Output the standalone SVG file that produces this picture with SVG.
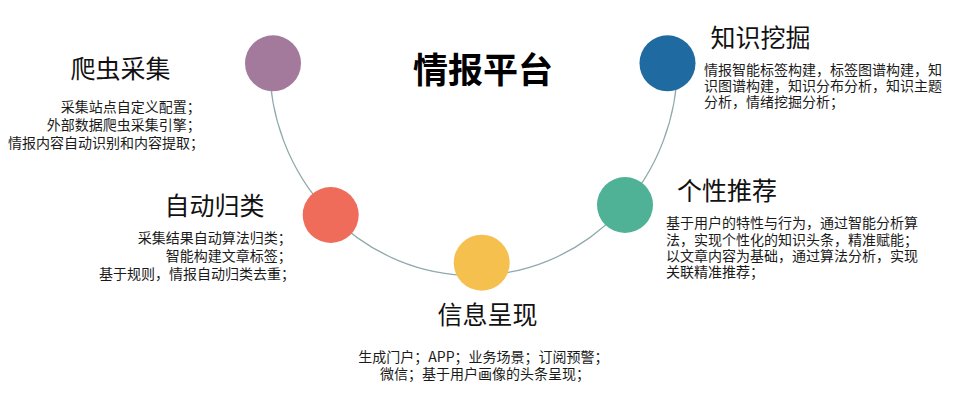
<svg xmlns="http://www.w3.org/2000/svg" width="961" height="405" viewBox="0 0 961 405">
  <style>
    text { font-family: "Noto Sans CJK SC", "Liberation Sans", sans-serif; fill: #1a1a1a; }
    .title { font-size: 35px; font-weight: bold; fill: #000; }
    .head { font-size: 25px; fill: #111; }
    .body { font-size: 14px; }
    .arc { fill: none; stroke: #8fa9ab; stroke-width: 1.2; }
  </style>
  <rect width="961" height="405" fill="#ffffff"/>
  <g id="connectors">
    <path class="arc" d="M 269.5 63 A 204 212.5 0 0 0 677.5 63"/>
  </g>
  <g id="title">
    <text class="title" x="483" y="82.5" text-anchor="middle">情报平台</text>
  </g>
  <g id="node-crawler">
    <circle cx="273" cy="63.3" r="28" fill="#a37a9c"/>
    <text class="head" x="70.5" y="78">爬虫采集</text>
    <text class="body" text-anchor="end">
      <tspan x="204" y="112">采集站点自定义配置；</tspan>
      <tspan x="204" y="130">外部数据爬虫采集引擎；</tspan>
      <tspan x="204" y="148">情报内容自动识别和内容提取；</tspan>
    </text>
  </g>
  <g id="node-classify">
    <circle cx="330.7" cy="215" r="28" fill="#ef6b5a"/>
    <text class="head" x="164.5" y="215">自动归类</text>
    <text class="body" text-anchor="end">
      <tspan x="295" y="243">采集结果自动算法归类；</tspan>
      <tspan x="295" y="261">智能构建文章标签；</tspan>
      <tspan x="295" y="279">基于规则，情报自动归类去重；</tspan>
    </text>
  </g>
  <g id="node-present">
    <circle cx="481.7" cy="262.7" r="28" fill="#f6c04f"/>
    <text class="head" x="487.5" y="324" text-anchor="middle">信息呈现</text>
    <text class="body" text-anchor="middle">
      <tspan x="485" y="362">生成门户；APP；业务场景；订阅预警；</tspan>
      <tspan x="485" y="378.5">微信；基于用户画像的头条呈现；</tspan>
    </text>
  </g>
  <g id="node-recommend">
    <circle cx="625" cy="205" r="28" fill="#4fb196"/>
    <text class="head" x="677" y="200">个性推荐</text>
    <text class="body">
      <tspan x="666" y="227.5">基于用户的特性与行为，通过智能分析算</tspan>
      <tspan x="666" y="244.5">法，实现个性化的知识头条，精准赋能；</tspan>
      <tspan x="666" y="261">以文章内容为基础，通过算法分析，实现</tspan>
      <tspan x="666" y="277">关联精准推荐；</tspan>
    </text>
  </g>
  <g id="node-mining">
    <circle cx="667.5" cy="63.3" r="28" fill="#1f6aa1"/>
    <text class="head" x="710.5" y="46.5">知识挖掘</text>
    <text class="body">
      <tspan x="704" y="74.5">情报智能标签构建，标签图谱构建，知</tspan>
      <tspan x="704" y="91">识图谱构建，知识分布分析，知识主题</tspan>
      <tspan x="704" y="107">分析，情绪挖掘分析；</tspan>
    </text>
  </g>
</svg>
